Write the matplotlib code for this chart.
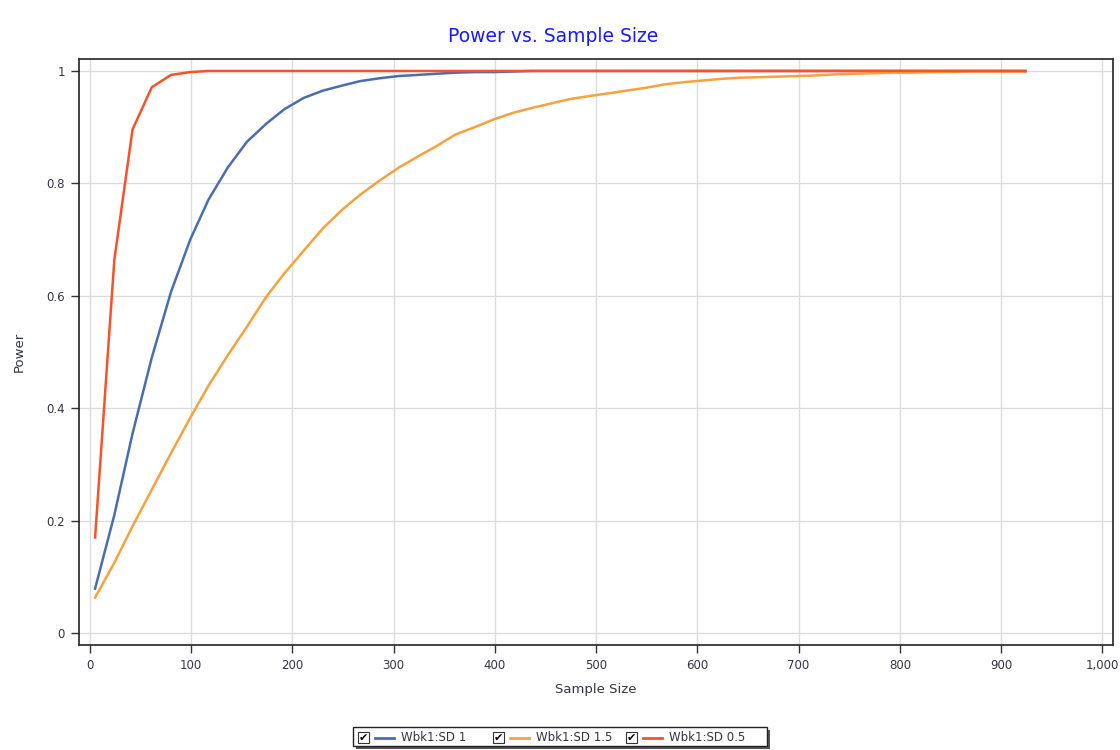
import matplotlib
matplotlib.use("Agg")
import matplotlib.pyplot as plt
from matplotlib.patches import Rectangle
from matplotlib.lines import Line2D
from matplotlib.ticker import FuncFormatter

sample_size = [5, 24, 42, 61, 80, 99, 117, 136, 155, 174, 192, 211, 230, 249, 267,
               286, 305, 324, 342, 361, 380, 399, 417, 436, 455, 474, 492, 511, 530,
               549, 567, 586, 605, 624, 642, 661, 680, 699, 717, 736, 755, 774, 792,
               811, 830, 849, 867, 886, 905, 924]

power_sd1 = [0.079, 0.21, 0.355, 0.49, 0.607, 0.70, 0.771, 0.828, 0.874, 0.906,
             0.932, 0.952, 0.965, 0.974, 0.982, 0.987, 0.991, 0.993, 0.995, 0.997,
             0.998, 0.998, 0.999, 1.0, 1.0, 1.0, 1.0, 1.0, 1.0, 1.0, 1.0, 1.0, 1.0,
             1.0, 1.0, 1.0, 1.0, 1.0, 1.0, 1.0, 1.0, 1.0, 1.0, 1.0, 1.0, 1.0, 1.0,
             1.0, 1.0, 1.0]

power_sd15 = [0.063, 0.125, 0.19, 0.255, 0.32, 0.383, 0.44, 0.494, 0.545, 0.598,
              0.64, 0.68, 0.72, 0.753, 0.78, 0.805, 0.828, 0.848, 0.866, 0.887,
              0.90, 0.914, 0.925, 0.934, 0.942, 0.95, 0.955, 0.96, 0.965, 0.97,
              0.976, 0.98, 0.983, 0.986, 0.988, 0.989, 0.99, 0.991, 0.992, 0.994,
              0.995, 0.996, 0.997, 0.997, 0.998, 0.998, 0.999, 0.999, 0.999, 0.999]

power_sd05 = [0.170, 0.664, 0.896, 0.971, 0.993, 0.998, 1.0, 1.0, 1.0, 1.0, 1.0,
              1.0, 1.0, 1.0, 1.0, 1.0, 1.0, 1.0, 1.0, 1.0, 1.0, 1.0, 1.0, 1.0, 1.0,
              1.0, 1.0, 1.0, 1.0, 1.0, 1.0, 1.0, 1.0, 1.0, 1.0, 1.0, 1.0, 1.0, 1.0,
              1.0, 1.0, 1.0, 1.0, 1.0, 1.0, 1.0, 1.0, 1.0, 1.0, 1.0]

series_labels = ["Wbk1:SD 1", "Wbk1:SD 1.5", "Wbk1:SD 0.5"]
series_colors = ["#4a6db0", "#f7a23e", "#fa5228"]
x_ticks = [0, 100, 200, 300, 400, 500, 600, 700, 800, 900, 1000]
y_ticks = [0, 0.2, 0.4, 0.6, 0.8, 1]

W, H = 1120, 750
fig = plt.figure(figsize=(W / 100, H / 100), dpi=100)
ax = fig.add_axes([79 / W, 1 - 645 / H, (1113 - 79) / W, (645 - 59) / H])

for ys, c in zip([power_sd1, power_sd15, power_sd05], series_colors):
    ax.plot(sample_size, ys, color=c, lw=1.8, solid_joinstyle="miter", zorder=3)

ax.set_xlim(-10.9, 1010.6)
ax.set_ylim(-0.0213, 1.0213)
ax.set_xticks(x_ticks)
ax.set_yticks(y_ticks)
ax.xaxis.set_major_formatter(FuncFormatter(lambda v, p: f"{int(v):,}"))
ax.yaxis.set_major_formatter(FuncFormatter(lambda v, p: "0" if v == 0 else ("1" if v == 1 else f"{v:g}")))
ax.grid(True, color="#dcdcdc", lw=1.0, zorder=0)
for s in ax.spines.values():
    s.set_color("#222222")
    s.set_linewidth(1.2)
ax.tick_params(axis="both", direction="out", length=6, width=1, color="#333333",
               labelsize=8.5, labelcolor="#333344", pad=4)

ax.set_xlabel("Sample Size", fontsize=9.5, color="#333344", labelpad=8)
fig.text(19 / W, 1 - 352 / H, "Power", rotation=90, fontsize=9.5, color="#333344",
         ha="center", va="center")
fig.text(553 / W, 1 - 37 / H, "Power vs. Sample Size", color="#1a1aff",
         fontsize=13.5, ha="center", va="center")

# Legend box with shadow
lx0, ly0, lx1, ly1 = 353, 727, 767, 746
shadow = Rectangle(((lx0 + 3) / W, 1 - (ly1 + 3) / H), (lx1 - lx0) / W, (ly1 - ly0) / H,
                   transform=fig.transFigure, facecolor="#555555", edgecolor="none", zorder=1)
box = Rectangle((lx0 / W, 1 - ly1 / H), (lx1 - lx0) / W, (ly1 - ly0) / H,
                transform=fig.transFigure, facecolor="white", edgecolor="#222222", lw=1.0, zorder=2)
fig.patches.extend([shadow, box])

entry_x = [358, 493, 626]
yc = 1 - 737.5 / H
for ex, lab, c in zip(entry_x, series_labels, series_colors):
    cb = Rectangle((ex / W, 1 - 743 / H), 11 / W, 11 / H, transform=fig.transFigure,
                   facecolor="white", edgecolor="#333333", lw=0.8, zorder=3)
    fig.patches.append(cb)
    fig.text((ex + 5.5) / W, yc - 0.5 / H, "✔", fontsize=8, ha="center", va="center",
             color="black", zorder=4)
    fig.lines.append(Line2D([(ex + 17) / W, (ex + 36) / W], [yc, yc],
                            transform=fig.transFigure, color=c, lw=2, zorder=4))
    fig.text((ex + 43) / W, yc, lab, fontsize=8.5, ha="left", va="center",
             color="#333344", zorder=4)

fig.savefig("out.png", dpi=100, facecolor="white")
